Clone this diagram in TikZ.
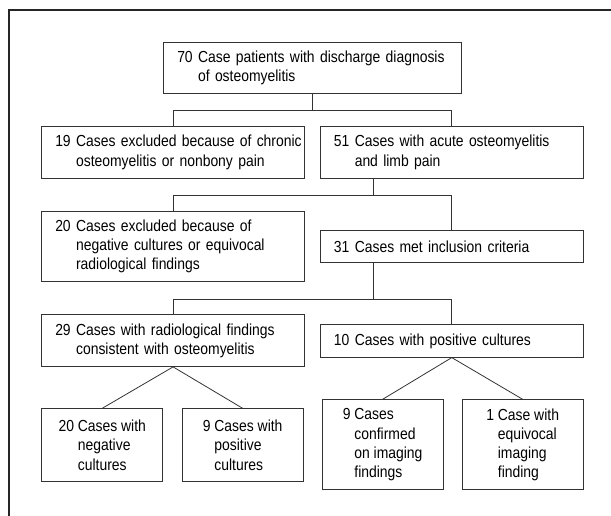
\documentclass[tikz,border=0pt]{standalone}
\usepackage{fontspec}
\setmainfont{Liberation Sans}[FakeStretch=0.87]
\tikzset{
  box/.style={draw=black!80, line width=0.9pt, anchor=north west, align=left,
    inner xsep=13.5pt, inner ysep=3pt, font=\fontsize{16}{19.2}\selectfont},
  widebox/.style={box, text width=235.7pt, minimum height=#1},
  smallbox/.style={box, inner xsep=8pt, minimum width=121pt, minimum height=#1},
  link/.style={draw=black!80, line width=0.8pt}
}
\newcommand{\hang}[1]{\hphantom{#1~}}
\begin{document}
\begin{tikzpicture}[x=1pt,y=-1pt]
\useasboundingbox (0,0) rectangle (611,516);
\draw[line width=1.2pt, black!85] (9,10) -- (9,516);
\draw[line width=1.8pt, black!85] (8.4,10) -- (611,10);

\node[widebox=51.6, text width=270.4pt] (top) at (163.3,41.7) {70 Case patients with discharge diagnosis\\\hang{70}of osteomyelitis};
\node[widebox=51.7] (excl1) at (41.3,126) {\mbox{19 Cases excluded because of chronic}\\\hang{19}osteomyelitis or nonbony pain};
\node[widebox=51.7] (acute) at (320,126) {51 Cases with acute osteomyelitis\\\hang{51}and limb pain};
\node[widebox=70] (excl2) at (41.3,211) {20 Cases excluded because of\\\hang{20}negative cultures or equivocal\\\hang{20}radiological findings};
\node[widebox=32.3] (incl) at (320,230) {31 Cases met inclusion criteria};
\node[widebox=51.7] (rad) at (41.3,314.3) {29 Cases with radiological findings\\\hang{29}consistent with osteomyelitis};
\node[widebox=32.4] (pos) at (320,324.3) {10 Cases with positive cultures};

\node[smallbox=72.7] (neg) at (41.3,408.3) {20 Cases with\\\hang{20}negative\\\hang{20}cultures};
\node[smallbox=72.7] (poscult) at (181.7,408.3) {9 Cases with\\\hang{9}positive\\\hang{9}cultures};
\node[smallbox=90] (conf) at (321.7,399.3) {9 Cases\\\hang{9}confirmed\\\hang{9}on imaging\\\hang{9}findings};
\node[smallbox=90] (equiv) at (461.7,399.3) {1 Case with\\\hang{1}equivocal\\\hang{1}imaging\\\hang{1}finding};

% forks between the levels
\draw[link] (top.south) -- ++(0,16.7) coordinate (fork1);
\draw[link] (excl1.north) |- (fork1) -| (acute.north);
\draw[link] ([xshift=-78pt]acute.south) -- ++(0,16.7) coordinate (fork2);
\draw[link] (excl2.north) |- (fork2) -| (incl.north);
\draw[link] ([xshift=-78pt]incl.south) -- ++(0,36) coordinate (fork3);
\draw[link] (rad.north) |- (fork3) -| (pos.north);
\draw[link] (neg.north) -- (rad.south) -- (poscult.north);
\draw[link] (conf.north) -- (pos.south) -- (equiv.north);
\end{tikzpicture}
\end{document}
